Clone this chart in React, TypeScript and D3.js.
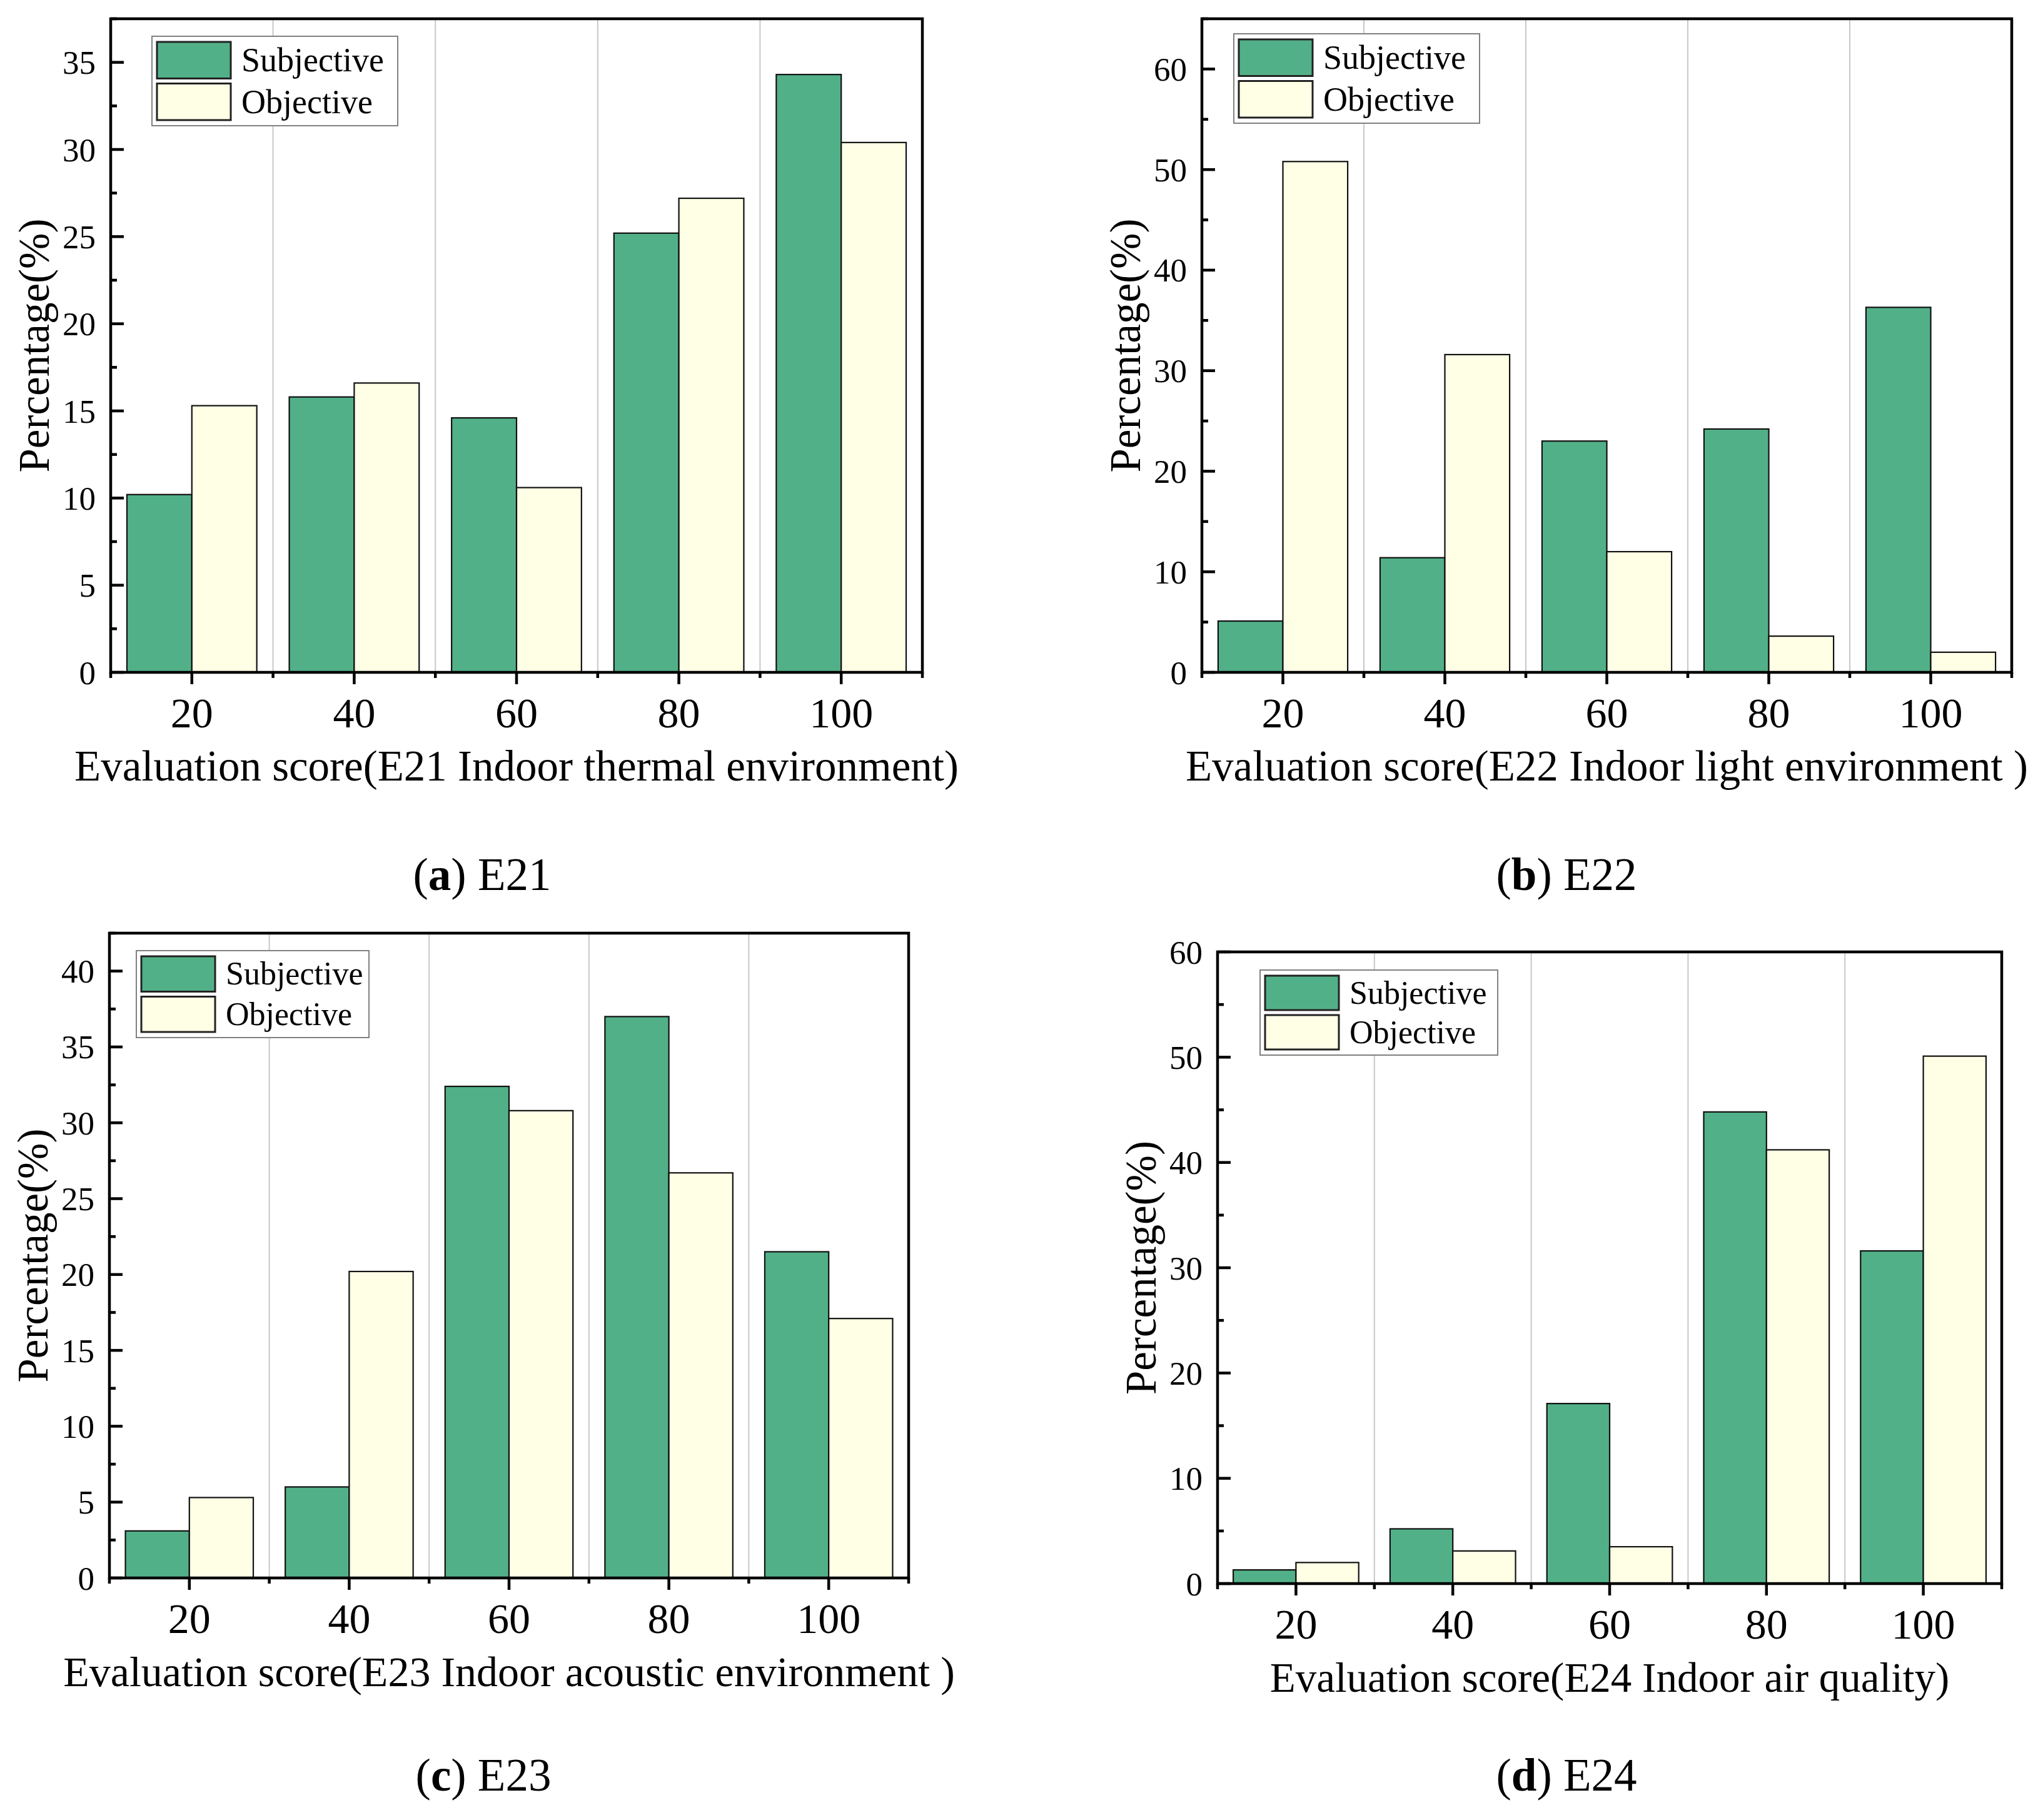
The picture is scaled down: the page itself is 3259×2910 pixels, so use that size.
import React from "react";
import * as d3 from "d3";

const scores = [20, 40, 60, 80, 100];

const subjectiveE21 = [10.2, 15.8, 14.6, 25.2, 34.3];
const objectiveE21 = [15.3, 16.6, 10.6, 27.2, 30.4];

const subjectiveE22 = [5.1, 11.4, 23.0, 24.2, 36.3];
const objectiveE22 = [50.8, 31.6, 12.0, 3.6, 2.0];

const subjectiveE23 = [3.1, 6.0, 32.4, 37.0, 21.5];
const objectiveE23 = [5.3, 20.2, 30.8, 26.7, 17.1];

const subjectiveE24 = [1.3, 5.2, 17.1, 44.8, 31.6];
const objectiveE24 = [2.0, 3.1, 3.5, 41.2, 50.1];

const xTitles = [
  "Evaluation score(E21 Indoor thermal environment)",
  "Evaluation score(E22 Indoor light environment )",
  "Evaluation score(E23 Indoor acoustic environment )",
  "Evaluation score(E24 Indoor air quality)",
];
const captionLetters = ["a", "b", "c", "d"];
const captionCodes = ["E21", "E22", "E23", "E24"];
const yMaxes = [37.5, 65, 42.5, 60];
const yMajorSteps = [5, 10, 5, 10];
const legendLabels = ["Subjective", "Objective"];

const GREEN = "#52B088";
const CREAM = "#FFFFE6";
const FONT = "'Liberation Serif', 'Times New Roman', serif";

type PanelLayout = {
  L: number; R: number; T: number; B: number;
  legend: { x: number; y: number; w: number; h: number; fs: number };
  capX: number; capY: number; titleFs: number;
};

const layouts: PanelLayout[] = [
  { L: 177, R: 1475, T: 30, B: 1075, legend: { x: 243, y: 58, w: 393, h: 143, fs: 54 }, capX: 771, capY: 1423, titleFs: 69 },
  { L: 1922, R: 3217, T: 30, B: 1075, legend: { x: 1973, y: 54, w: 393, h: 143, fs: 54 }, capX: 2505, capY: 1423, titleFs: 69 },
  { L: 175, R: 1453, T: 1492, B: 2523, legend: { x: 218, y: 1520, w: 372, h: 139, fs: 52 }, capX: 773, capY: 2863, titleFs: 68 },
  { L: 1947, R: 3201, T: 1522, B: 2532, legend: { x: 2015, y: 1551, w: 380, h: 136, fs: 52 }, capX: 2505, capY: 2863, titleFs: 67 },
];

const seriesData = [
  [subjectiveE21, objectiveE21],
  [subjectiveE22, objectiveE22],
  [subjectiveE23, objectiveE23],
  [subjectiveE24, objectiveE24],
];

function Panel({ idx }: { idx: number }) {
  const lay = layouts[idx];
  const { L, R, T, B } = lay;
  const x = d3.scaleLinear().domain([10, 110]).range([L, R]);
  const y = d3.scaleLinear().domain([0, yMaxes[idx]]).range([B, T]);
  const step = yMajorSteps[idx];
  const majorY = d3.range(0, yMaxes[idx] + 0.001, step);
  const minorY = d3.range(step / 2, yMaxes[idx] + 0.001, step);
  const majorX = scores;
  const minorX = d3.range(10, 111, 20);
  const gridX = [30, 50, 70, 90];
  const halfW = 8;
  const [subj, obj] = seriesData[idx];
  const lg = lay.legend;
  const swW = 118;
  const swH = (lg.h - 26) / 2;
  return (
    <g>
      {gridX.map((g) => (
        <line key={"g" + g} x1={x(g)} x2={x(g)} y1={T} y2={B} stroke="#C8C8C8" strokeWidth={2} />
      ))}
      {scores.map((s, i) => (
        <g key={"b" + s}>
          <rect x={x(s - halfW)} y={y(subj[i])} width={x(s) - x(s - halfW)} height={B - y(subj[i])}
            fill={GREEN} stroke="#111" strokeWidth={2.2} />
          <rect x={x(s)} y={y(obj[i])} width={x(s + halfW) - x(s)} height={B - y(obj[i])}
            fill={CREAM} stroke="#111" strokeWidth={2.2} />
        </g>
      ))}
      <rect x={L} y={T} width={R - L} height={B - T} fill="none" stroke="#000" strokeWidth={4.5} />
      {majorY.map((v) => (
        <g key={"ym" + v}>
          <line x1={L} x2={L + 21} y1={y(v)} y2={y(v)} stroke="#000" strokeWidth={4.5} />
          <text x={L - 24} y={y(v)} dy="0.35em" textAnchor="end" fontFamily={FONT} fontSize={53} fill="#000">
            {v}
          </text>
        </g>
      ))}
      {minorY.map((v) => (
        <line key={"yn" + v} x1={L} x2={L + 10} y1={y(v)} y2={y(v)} stroke="#000" strokeWidth={4.5} />
      ))}
      {majorX.map((v) => (
        <g key={"xm" + v}>
          <line x1={x(v)} x2={x(v)} y1={B} y2={B + 19} stroke="#000" strokeWidth={4.5} />
          <text x={x(v)} y={B + 88} textAnchor="middle" fontFamily={FONT} fontSize={68} fill="#000">
            {v}
          </text>
        </g>
      ))}
      {minorX.map((v) => (
        <line key={"xn" + v} x1={x(v)} x2={x(v)} y1={B} y2={B + 9} stroke="#000" strokeWidth={4.5} />
      ))}
      <text x={(L + R) / 2} y={B + 173} textAnchor="middle" fontFamily={FONT} fontSize={lay.titleFs} fill="#000">
        {xTitles[idx]}
      </text>
      <text transform={`translate(${L - 99},${(T + B) / 2}) rotate(-90)`} textAnchor="middle"
        fontFamily={FONT} fontSize={69} fill="#000">
        Percentage(%)
      </text>
      <rect x={lg.x} y={lg.y} width={lg.w} height={lg.h} fill="#fff" stroke="#808080" strokeWidth={2} />
      {legendLabels.map((lab, k) => {
        const sy = lg.y + 9 + k * (swH + 8);
        return (
          <g key={lab}>
            <rect x={lg.x + 8} y={sy} width={swW} height={swH} fill={k === 0 ? GREEN : CREAM}
              stroke="#222" strokeWidth={3} />
            <text x={lg.x + 8 + swW + 17} y={sy + swH / 2} dy="0.33em" fontFamily={FONT}
              fontSize={lg.fs} fill="#000">
              {lab}
            </text>
          </g>
        );
      })}
      <text x={lay.capX} y={lay.capY} textAnchor="middle" fontFamily={FONT} fontSize={73} fill="#000">
        (<tspan fontWeight="bold">{captionLetters[idx]}</tspan>) {captionCodes[idx]}
      </text>
    </g>
  );
}

export default function App() {
  return (
    <svg width={3259} height={2910} viewBox="0 0 3259 2910"
      style={{ position: "absolute", left: 0, top: 0, background: "#fff" }}>
      <rect x={0} y={0} width={3259} height={2910} fill="#fff" />
      {[0, 1, 2, 3].map((i) => (
        <Panel key={i} idx={i} />
      ))}
    </svg>
  );
}
